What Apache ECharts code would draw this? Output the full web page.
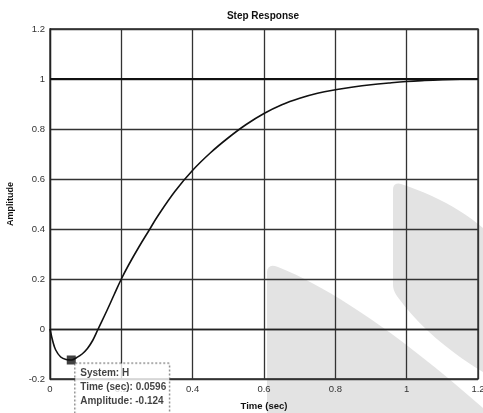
<!DOCTYPE html>
<html><head><meta charset="utf-8">
<script src="https://cdn.jsdelivr.net/npm/echarts@6/dist/echarts.min.js"></script>
<style>html,body{margin:0;padding:0;background:#fff}#c{width:483px;height:413px}</style>
</head><body><div id="c"></div>
<script>
const titleText = 'Step Response';
const xName = 'Time (sec)';
const yName = 'Amplitude';
const timeValues = [0, 0.008, 0.016, 0.03, 0.045, 0.0596, 0.075, 0.09, 0.105, 0.12, 0.135, 0.16, 0.18, 0.20, 0.22, 0.25, 0.28, 0.30, 0.35, 0.40, 0.45, 0.50, 0.55, 0.60, 0.65, 0.70, 0.75, 0.80, 0.85, 0.90, 0.95, 1.00, 1.05, 1.10, 1.15, 1.20];
const ampValues  = [0, -0.05, -0.084, -0.112, -0.122, -0.124, -0.114, -0.1, -0.078, -0.045, 0, 0.075, 0.138, 0.20, 0.255, 0.33, 0.40, 0.447, 0.55, 0.635, 0.705, 0.765, 0.818, 0.862, 0.897, 0.923, 0.943, 0.957, 0.968, 0.977, 0.984, 0.99, 0.994, 0.997, 0.999, 1.0];
const steadyValue = [1];
const tipPoint = {system: 'H', time: 0.0596, amp: -0.124};

// background watermark shapes (decoration of the scanned reference)
function quad(p0, c, p1, n) {
  const out = [];
  for (let i = 0; i <= n; i++) {
    const t = i / n, a = (1 - t) * (1 - t), b = 2 * t * (1 - t), d = t * t;
    out.push([a * p0[0] + b * c[0] + d * p1[0], a * p0[1] + b * c[1] + d * p1[1]]);
  }
  return out;
}
const shapeA = [[267, 413], [267, 272]].concat(quad([267, 272], [268, 263], [278, 267], 6), quad([278, 267], [360, 300], [483, 408], 20), [[483, 413]]);
const shapeB = [[393, 190]].concat(quad([393, 190], [393, 182], [401, 184], 6), quad([401, 184], [450, 200], [483, 228], 12), [[483, 372]], quad([483, 372], [430, 340], [400, 300], 14), quad([400, 300], [393, 292], [393, 285], 6));

const font = 'Liberation Sans, Arial, sans-serif';
const chart = echarts.init(document.getElementById('c'));
const lineData = timeValues.map((t, i) => [t, ampValues[i]]);
chart.setOption({
  animation: false,
  backgroundColor: '#fff',
  title: {text: titleText, left: 263, top: 11, padding: 0, textAlign: 'center',
    textStyle: {fontFamily: font, fontSize: 10, fontWeight: 'bold', color: '#111'}},
  grid: {left: 50, right: 5, top: 29, bottom: 34, containLabel: false, outerBoundsMode: 'none',
    show: true, borderColor: '#222', borderWidth: 1.3, backgroundColor: 'transparent'},
  graphic: [
    {type: 'polygon', z: -10, silent: true, shape: {points: shapeA}, style: {fill: '#e3e3e3'}},
    {type: 'polygon', z: -10, silent: true, shape: {points: shapeB}, style: {fill: '#e3e3e3'}}
  ],
  xAxis: {type: 'value', min: 0, max: 1.2, interval: 0.2,
    name: xName, nameLocation: 'middle', nameGap: 22,
    nameTextStyle: {fontFamily: font, fontSize: 9.5, fontWeight: 'bold', color: '#111'},
    axisLine: {show: true, lineStyle: {color: '#222', width: 1.3}},
    axisTick: {show: false},
    axisLabel: {fontFamily: font, fontSize: 9.5, color: '#333', margin: 5, formatter: v => String(+v.toFixed(1))},
    splitLine: {show: true, lineStyle: {color: '#333', width: 1.3}}},
  yAxis: {type: 'value', min: -0.2, max: 1.2, interval: 0.2,
    name: yName, nameLocation: 'middle', nameGap: 35, nameRotate: 90,
    nameTextStyle: {fontFamily: font, fontSize: 9, fontWeight: 'bold', color: '#111'},
    axisLine: {show: true, lineStyle: {color: '#222', width: 1.3}},
    axisTick: {show: false},
    axisLabel: {fontFamily: font, fontSize: 9.5, color: '#333', margin: 5, formatter: v => String(+v.toFixed(1))},
    splitLine: {show: true, lineStyle: {color: '#333', width: 1.3}}},
  series: [
    {type: 'line', data: lineData, smooth: 0.4, showSymbol: false, z: 3,
      lineStyle: {color: '#111', width: 1.6},
      markLine: {silent: true, symbol: 'none', label: {show: false},
        lineStyle: {color: '#111', width: 1.8, type: 'solid'},
        data: [{yAxis: steadyValue[0]}]}},
    {type: 'scatter', z: 5, data: [[tipPoint.time, tipPoint.amp]], symbol: 'rect', symbolSize: 9,
      itemStyle: {color: '#111'},
      label: {show: true, position: [8.5, 8], align: 'left', verticalAlign: 'top',
        formatter: () => ['System: ' + tipPoint.system, 'Time (sec): ' + tipPoint.time, 'Amplitude: ' + tipPoint.amp].join('\n'),
        fontFamily: font, fontSize: 10, fontWeight: 'bold', color: '#111', lineHeight: 14,
        backgroundColor: '#fff', borderColor: '#555', borderWidth: 1, borderType: 'dotted',
        padding: [3, 4, 8, 5], width: 85}}
  ]
});
</script></body></html>
